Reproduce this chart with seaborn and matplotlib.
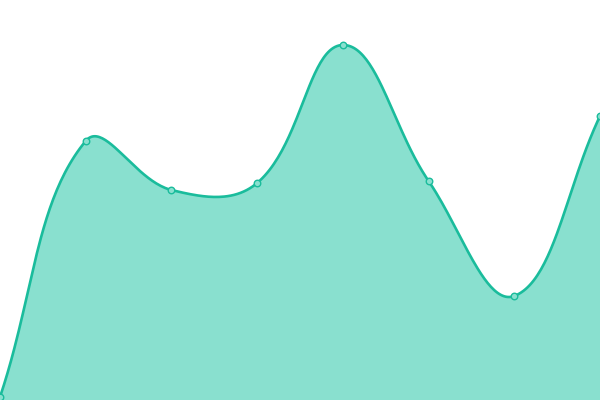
import numpy as np
import pandas as pd
import matplotlib
matplotlib.use("Agg")
import matplotlib.pyplot as plt
import seaborn as sns

# Data
categories = [0, 1, 2, 3, 4, 5, 6, 7]
values = [3, 259, 210, 217, 355, 219, 104, 284]

LINE = "#1abc9c"
FILL = "#89e0cf"
TENSION = 0.4


def spline_path(px, py, tension=TENSION, n=50):
    """Chart.js-style spline (distance weighted control points) in pixel space."""
    m = len(px)
    cps = []
    for i in range(m):
        p0 = np.array([px[max(i - 1, 0)], py[max(i - 1, 0)]])
        p1 = np.array([px[i], py[i]])
        p2 = np.array([px[min(i + 1, m - 1)], py[min(i + 1, m - 1)]])
        d01 = np.hypot(*(p1 - p0))
        d12 = np.hypot(*(p2 - p1))
        tot = d01 + d12
        s01 = d01 / tot if tot else 0
        s12 = d12 / tot if tot else 0
        fa = tension * s01
        fb = tension * s12
        cps.append((p1 - fa * (p2 - p0), p1 + fb * (p2 - p0)))
    outx, outy = [], []
    for i in range(m - 1):
        a = np.array([px[i], py[i]])
        b = cps[i][1]
        c = cps[i + 1][0]
        d = np.array([px[i + 1], py[i + 1]])
        t = np.linspace(0, 1, n, endpoint=(i == m - 2))[:, None]
        pts = ((1 - t) ** 3) * a + 3 * ((1 - t) ** 2) * t * b + 3 * (1 - t) * t**2 * c + t**3 * d
        outx.append(pts[:, 0])
        outy.append(pts[:, 1])
    return np.concatenate(outx), np.concatenate(outy)


sns.set_theme(style="white")
fig = plt.figure(figsize=(6, 4), dpi=100)
ax = fig.add_axes([0, 0, 1, 1])
ax.set_xlim(0, 7)
ax.set_ylim(0, 400)
ax.axis("off")

# compute smooth path in display space, then map back to data space
disp = ax.transData.transform(np.column_stack([categories, values]))
sx, sy = spline_path(disp[:, 0], disp[:, 1])
back = ax.transData.inverted().transform(np.column_stack([sx, sy]))
smooth = pd.DataFrame({"x": back[:, 0], "y": back[:, 1]})
pts = pd.DataFrame({"x": categories, "y": values})

ax.fill_between(smooth["x"], smooth["y"], 0, color=FILL, linewidth=0, zorder=1)
sns.lineplot(data=smooth, x="x", y="y", ax=ax, color=LINE, linewidth=1.9,
             sort=False, estimator=None, zorder=2)
sns.scatterplot(data=pts, x="x", y="y", ax=ax, s=22, color=FILL,
                edgecolor=LINE, linewidth=1.0, zorder=3, clip_on=False)

ax.set_xlim(0, 7)
ax.set_ylim(0, 400)
ax.axis("off")

fig.savefig("out.png", dpi=100)
